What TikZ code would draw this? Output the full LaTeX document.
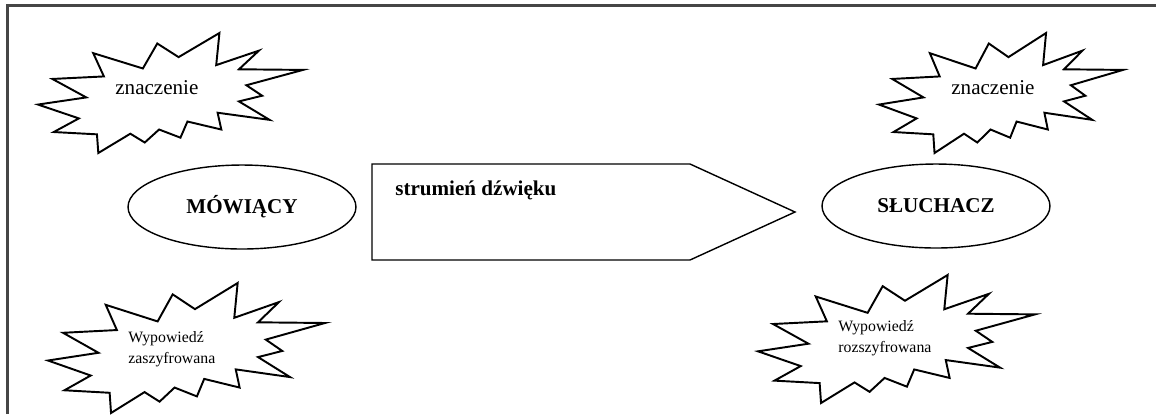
\documentclass[tikz,border=0pt]{standalone}
\RequirePackage{fontspec}
\setmainfont{Liberation Serif}
\RequirePackage{tikz}
\usetikzlibrary{shapes.geometric}

\tikzset{
    blast/.style={draw=black,line width=1.1pt,line join=miter},
    bubble/.style={ellipse,draw=black,line width=0.8pt,inner sep=0pt,
        minimum width=4.56cm,minimum height=1.68cm,
        font=\fontsize{12}{14}\selectfont\bfseries},
    blasttext/.style={inner sep=0pt,font=\fontsize{12}{14}\selectfont},
    smalltext/.style={inner sep=0pt,align=left,font=\fontsize{9}{11.7}\selectfont},
    frameline/.style={draw={rgb,255:red,70;green,70;blue,70},line width=1.6pt}
}

% explosion outline fitted into the box (x,y) of width w and height h
\newcommand{\explosion}[4]{%
    \begin{scope}[shift={(#1,#2)},xscale=#3,yscale=#4]
        \draw[blast] (.5306,.2010) -- (.6847,0) -- (.6725,.2675) -- (.8337,.1469)
            -- (.7583,.3024) -- (1,.3076) -- (.7863,.4353) -- (.8458,.5227)
            -- (.7583,.5699) -- (.8739,.7237) -- (.6778,.6644) -- (.6918,.8042)
            -- (.5639,.7377) -- (.5376,.8723) -- (.4570,.8042) -- (.4028,.9126)
            -- (.3485,.8391) -- (.2276,1) -- (.2225,.8444) -- (.0595,.8252)
            -- (.1542,.7116) -- (0,.5962) -- (.1822,.5367) -- (.0543,.3829)
            -- (.2487,.3619) -- (.2084,.1678) -- (.3958,.2955) -- (.4501,.0874)
            -- cycle;
    \end{scope}}

\begin{document}
\begin{tikzpicture}[x=0.02cm,y=-0.02cm]
                        \useasboundingbox (0,0) rectangle (1156,414);
                        \draw[frameline] (7.5,414) -- (7.5,5.5) -- (1156,5.5);
                        % speaker and listener
                        \node[bubble] (speaker) at (242,207) {MÓWIĄCY};
                        \node[bubble] (listener) at (936,206) {SŁUCHACZ};
                        % sound stream
                        \draw[line width=0.8pt] (372,164) -- (690,164) -- (795,212)
                            -- (690,260) -- (372,260) -- cycle;
                        \node[blasttext,anchor=base west,font=\fontsize{12}{14}\selectfont\bfseries]
                            (stream) at (395,195) {strumień dźwięku};
                        % meanings
                        \explosion{38}{33}{265}{120}
                        \node[blasttext,anchor=base west] (meaningL) at (115,94) {znaczenie};
                        \explosion{879}{33}{244}{120}
                        \node[blasttext,anchor=base west] (meaningR) at (951,94) {znaczenie};
                        % utterances
                        \explosion{48}{283}{277}{130}
                        \node[smalltext,anchor=base west] (coded) at (128,363)
                            {Wypowiedź\\zaszyfrowana};
                        \explosion{758}{275}{277}{128}
                        \node[smalltext,anchor=base west] (decoded) at (838,352.5)
                            {Wypowiedź\\rozszyfrowana};
                    \end{tikzpicture}
\end{document}
